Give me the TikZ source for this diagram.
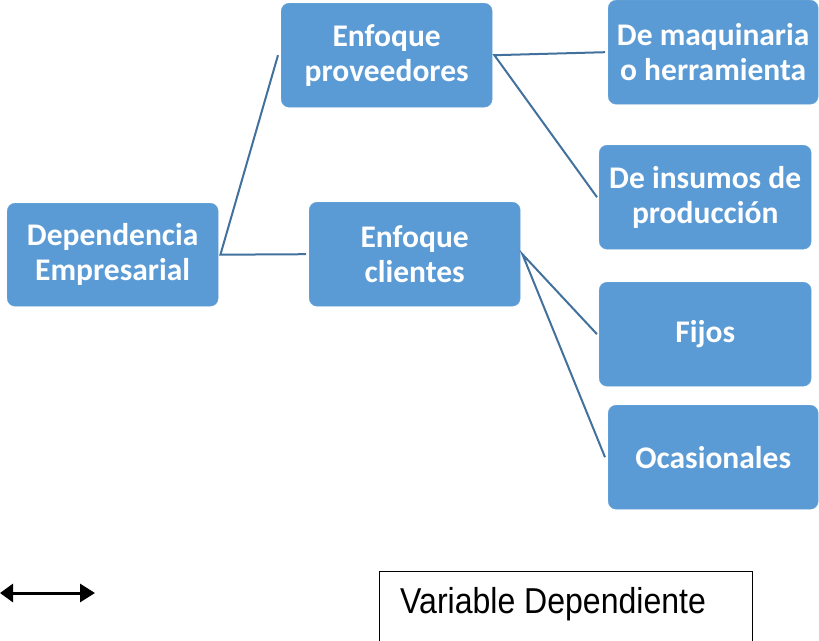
\documentclass[tikz,border=0pt]{standalone}
\usepackage{fontspec}
\setmainfont{Carlito}
\newfontfamily\arialfont{Liberation Sans}
\usetikzlibrary{arrows.meta}
\definecolor{boxblue}{HTML}{5B9BD5}
\definecolor{linkblue}{HTML}{41719C}
\tikzset{
  blbox/.style={anchor=north west, fill=boxblue, draw=boxblue!90!white, rounded corners=8pt,
    inner sep=0pt, text=white, align=center,
    font=\fontsize{31.5}{35}\selectfont\bfseries},
  link/.style={draw=linkblue, line width=2pt},
}
\begin{document}
\begin{tikzpicture}[x=1pt,y=-1pt]
\useasboundingbox (0,0) rectangle (819,640);
\node[blbox, minimum width=211pt, minimum height=103pt] (dep) at (7,203) {Dependencia\\Empresarial};
\node[blbox, minimum width=211pt, minimum height=104pt] (prov) at (281,3) {Enfoque\\proveedores};
\node[blbox, minimum width=211pt, minimum height=104pt] (cli) at (309,202) {Enfoque\\clientes};
\node[blbox, minimum width=210pt, minimum height=104pt] (maq) at (608,0) {De maquinaria\\o herramienta};
\node[blbox, minimum width=212pt, minimum height=104pt] (ins) at (599,145) {De insumos de\\producción};
\node[blbox, minimum width=212pt, minimum height=104pt] (fij) at (599,282) {Fijos};
\node[blbox, minimum width=210pt, minimum height=104pt] (oca) at (608,405) {Ocasionales};

\coordinate (d0) at ([xshift=2pt]dep.east);
\coordinate (p0) at ([xshift=2pt]prov.east);
\coordinate (c0) at ([xshift=2pt]cli.east);
\draw[link] ([xshift=-3pt]prov.west) -- (d0) -- ([xshift=-3pt]cli.west);
\draw[link] ([xshift=-3pt]maq.west) -- (p0) -- ([xshift=-2pt]ins.west);
\draw[link] ([xshift=-2pt]fij.west) -- (c0) -- ([xshift=-3pt]oca.west);

\coordinate (al) at (0,593);
\coordinate (ar) at (95,593);
\draw[line width=3pt, {Triangle[length=13pt,width=18pt]}-{Triangle[length=15pt,width=18pt]}] (al) -- (ar);

\node[draw=black, line width=1.2pt, anchor=north west, minimum width=373pt, minimum height=70pt, inner sep=0pt] (var) at (379,571) {};
\node[anchor=base west, inner sep=0pt, font=\arialfont\fontsize{36}{40}\selectfont] (vt) at (400,613) {\scalebox{0.89}[1]{Variable Dependiente}};
\end{tikzpicture}
\end{document}
